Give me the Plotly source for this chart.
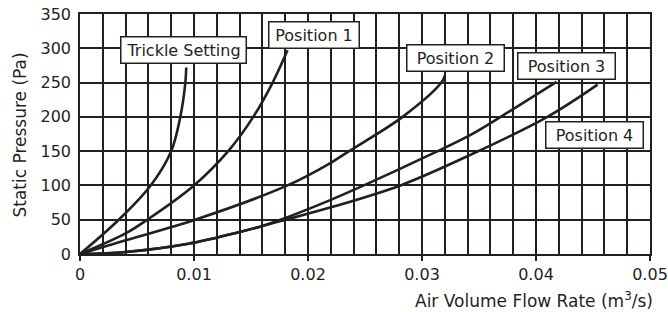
import plotly.graph_objects as go

# ---- data ----
trickle_flow = [0, 0.0034, 0.0062, 0.0080, 0.0088, 0.00924, 0.00932]
trickle_p = [0, 50, 100, 150, 200, 250, 272]

pos1_flow = [0, 0.004, 0.0059, 0.0100, 0.0130, 0.0152, 0.0169, 0.0182]
pos1_p = [0, 30, 50, 100, 150, 200, 250, 297]

pos2_flow = [0, 0.004, 0.0101, 0.0182, 0.0220, 0.0236, 0.0283, 0.0317, 0.0320]
pos2_p = [0, 20, 50, 100, 133, 150, 200, 250, 260]

pos3_flow = [0, 0.004, 0.0095, 0.014, 0.016, 0.0176, 0.022, 0.0249, 0.031, 0.0343, 0.0369, 0.0418]
pos3_p = [0, 3, 15, 32, 41, 50, 79, 100, 147, 174, 200, 251]

pos4_flow = [0, 0.004, 0.0095, 0.014, 0.016, 0.0176, 0.022, 0.0281, 0.0343, 0.041, 0.0454]
pos4_p = [0, 3, 15, 32, 41, 48, 68, 100, 145, 200, 247]

labels = ["Trickle Setting", "Position 1", "Position 2", "Position 3", "Position 4"]
label_x = [0.00911, 0.02052, 0.03297, 0.04267, 0.04515]
label_y = [298, 320, 286, 274.6, 173.5]
label_w = [118, 83, 90, 90, 90]

x_title = "Air Volume Flow Rate (m<sup>3</sup>/s)"
y_title = "Static Pressure (Pa)"

INK = "#231f20"
FONT = "DejaVu Sans"

fig = go.Figure()
for fx, py in [(trickle_flow, trickle_p), (pos1_flow, pos1_p), (pos2_flow, pos2_p),
               (pos3_flow, pos3_p), (pos4_flow, pos4_p)]:
    fig.add_trace(go.Scatter(x=fx, y=py, mode="lines",
                             line=dict(color=INK, width=2.6, shape="spline", smoothing=1.0),
                             showlegend=False, hoverinfo="skip"))

for t, lx, ly, w in zip(labels, label_x, label_y, label_w):
    fig.add_annotation(x=lx, y=ly, xref="x", yref="y", text=t, showarrow=False,
                       font=dict(family=FONT, size=16, color=INK), width=w, align="center",
                       bgcolor="white", bordercolor=INK, borderwidth=1.5, borderpad=3,
                       xanchor="center", yanchor="middle")

fig.add_annotation(x=1.0096, y=-0.192, xref="paper", yref="paper", text=x_title,
                   showarrow=False, xanchor="right", yanchor="middle",
                   font=dict(family=FONT, size=17, color=INK))
fig.add_annotation(x=-0.106, y=0.496, xref="paper", yref="paper", text=y_title,
                   showarrow=False, xanchor="center", yanchor="middle", textangle=-90,
                   font=dict(family=FONT, size=17, color=INK))

fig.update_xaxes(range=[0, 0.05], dtick=0.01, tick0=0, showgrid=True, gridcolor=INK, gridwidth=1.5,
                 minor=dict(dtick=0.002, showgrid=True, gridcolor=INK, gridwidth=1.5, ticks=""),
                 ticks="outside", ticklen=5, tickwidth=1.5, tickcolor=INK,
                 showline=True, linecolor=INK, linewidth=1.5, mirror=True, zeroline=False,
                 automargin=False,
                 tickfont=dict(family=FONT, size=16, color=INK), fixedrange=True)
fig.update_yaxes(range=[0, 350], dtick=50, tick0=0, showgrid=True, gridcolor=INK, gridwidth=1.5,
                 ticks="", ticklabelstandoff=4, automargin=False,
                 showline=True, linecolor=INK, linewidth=1.5, mirror=True, zeroline=False,
                 tickfont=dict(family=FONT, size=16, color=INK), fixedrange=True)

fig.update_layout(width=668, height=312, margin=dict(l=80, r=18, t=14, b=58, autoexpand=False),
                  paper_bgcolor="white", plot_bgcolor="white",
                  font=dict(family=FONT, color=INK))

fig.write_html("out.html", config={"displayModeBar": False},
               post_script="document.body.style.margin='0';document.body.style.overflow='hidden';")
